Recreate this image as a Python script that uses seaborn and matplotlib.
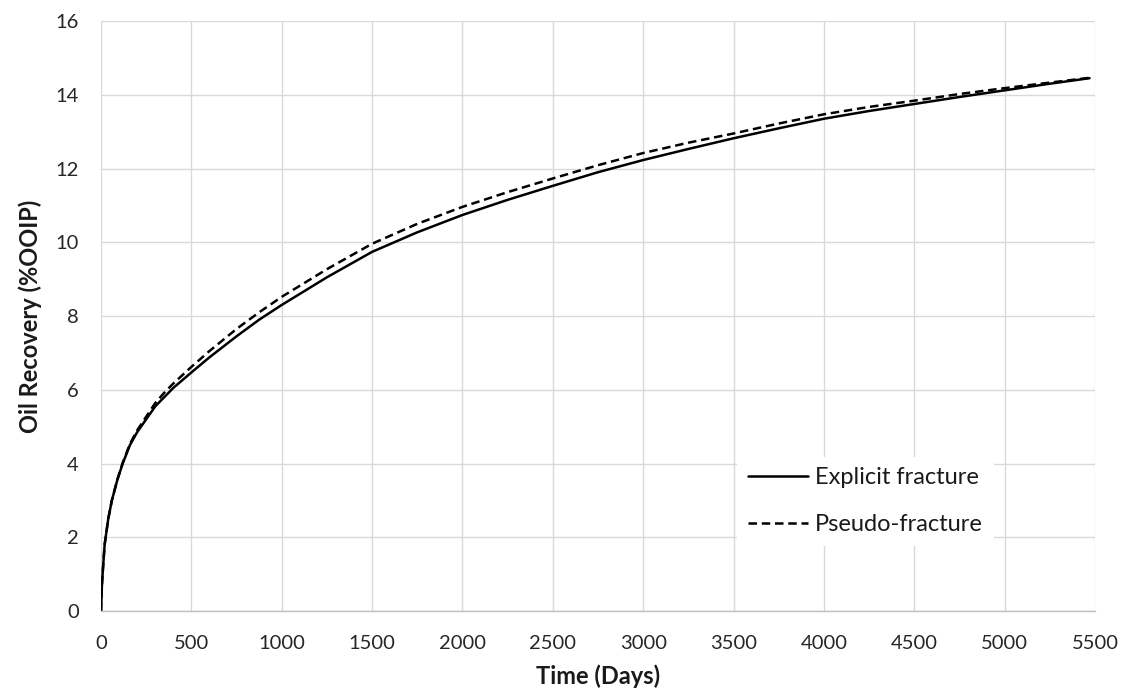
import numpy as np
import pandas as pd
import matplotlib
matplotlib.use("Agg")
import matplotlib.pyplot as plt
import seaborn as sns

# Cumulative oil recovery over time for two fracture representations
time_days = [0, 5, 10, 20, 40, 60, 90, 120, 160, 200, 250, 300, 350, 400,
             500, 600, 750, 875, 1000, 1250, 1500, 1750, 2000, 2250, 2500,
             2750, 3000, 3250, 3500, 3750, 4000, 4250, 4500, 4750, 5000,
             5250, 5470]
explicit_fracture = [0, 0.7, 1.1, 1.8, 2.5, 3.0, 3.55, 4.0, 4.5, 4.85, 5.2,
                     5.55, 5.8, 6.05, 6.47, 6.88, 7.45, 7.9, 8.3, 9.05, 9.74,
                     10.27, 10.74, 11.15, 11.53, 11.9, 12.23, 12.53, 12.82,
                     13.09, 13.35, 13.56, 13.75, 13.94, 14.12, 14.3, 14.45]
pseudo_fracture = [0, 0.7, 1.1, 1.8, 2.5, 3.0, 3.56, 4.02, 4.53, 4.9, 5.27,
                   5.64, 5.92, 6.17, 6.62, 7.05, 7.65, 8.1, 8.52, 9.27, 9.96,
                   10.5, 10.96, 11.36, 11.73, 12.09, 12.42, 12.7, 12.95,
                   13.22, 13.47, 13.67, 13.84, 14.02, 14.18, 14.33, 14.46]
series_names = ["Explicit fracture", "Pseudo-fracture"]

x_ticks = list(range(0, 5501, 500))
y_ticks = list(range(0, 17, 2))

df = pd.concat([
    pd.DataFrame({"Time": time_days, "Recovery": explicit_fracture,
                  "Case": series_names[0]}),
    pd.DataFrame({"Time": time_days, "Recovery": pseudo_fracture,
                  "Case": series_names[1]}),
])

sns.set_theme(style="white")
plt.rcParams["font.family"] = ["Lato", "DejaVu Sans"]

fig = plt.figure(figsize=(11.3, 6.94), dpi=100)
ax = fig.add_axes([0.0894, 0.1196, 0.8796, 0.8501])

sns.lineplot(data=df, x="Time", y="Recovery", style="Case",
             style_order=series_names,
             dashes={series_names[0]: "", series_names[1]: (3.4, 1.9)},
             color="black", linewidth=1.8, ax=ax, sort=False)

ax.set_xlim(0, 5500)
ax.set_ylim(0, 16)
ax.set_xticks(x_ticks)
ax.set_yticks(y_ticks)
ax.grid(True, color="#d9d9d9", linewidth=1.0)
ax.set_axisbelow(True)
for side in ["top", "right", "left"]:
    ax.spines[side].set_visible(False)
ax.spines["bottom"].set_color("#bfbfbf")
ax.spines["bottom"].set_linewidth(1.0)

ax.tick_params(axis="x", length=0, pad=17, labelsize=14.5, labelcolor="#262626")
ax.tick_params(axis="y", length=0, pad=16, labelsize=14.5, labelcolor="#262626")
ax.set_xlabel("Time (Days)", fontsize=17, fontweight="bold", labelpad=9,
              color="#1a1a1a")
ax.set_ylabel("Oil Recovery (%OOIP)", fontsize=17, fontweight="bold",
              labelpad=10, color="#1a1a1a")

leg = ax.legend(loc="center", bbox_to_anchor=(0.769, 0.186), fontsize=17,
                frameon=True, facecolor="white", edgecolor="none",
                framealpha=1.0, handlelength=2.55, handletextpad=0.3,
                labelspacing=1.1, borderpad=0.45, title=None)
frame = leg.get_frame()
for text in leg.get_texts():
    text.set_color("#1a1a1a")

fig.canvas.draw()
# widen the white legend box so it masks the grid around the entries
bb = frame.get_bbox()
frame.set_boxstyle("square", pad=0.0)
frame.set_bounds(bb.x0 - 38, bb.y0, bb.width + 76, bb.height)

fig.savefig("out.png", dpi=100)
